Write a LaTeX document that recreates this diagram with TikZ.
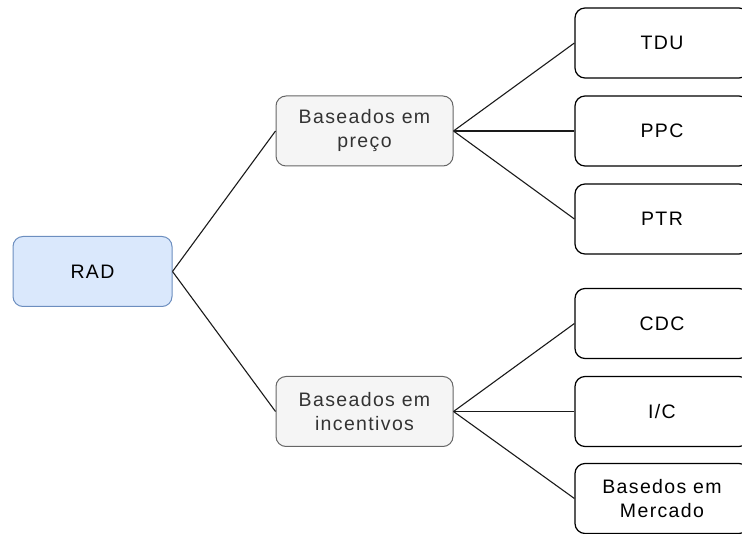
\documentclass[tikz,border=0pt]{standalone}
\usepackage{fontspec}
\setmainfont{Liberation Sans}
\newfontfamily\boxfont[LetterSpace=7]{Liberation Sans}
\begin{document}
\begin{tikzpicture}[x=1pt,y=-1pt,
  every node/.style={font=\boxfont\fontsize{19.5}{24}\selectfont, align=center, inner sep=0pt},
  box/.style={rectangle, rounded corners=10pt, minimum width=174pt, minimum height=70pt, line width=1pt},
  rootbox/.style={box, minimum width=159pt, draw=rootline, fill=rootfill, text=black},
  midbox/.style={box, minimum width=177pt, draw=midline, fill=midfill, text=midtext},
  leafbox/.style={box, draw=leafline, fill=white, text=black, line width=1.2pt},
  link/.style={draw=linkcol, line width=1.1pt}
]
\definecolor{rootfill}{HTML}{DAE8FC}
\definecolor{rootline}{HTML}{6C8EBF}
\definecolor{midfill}{HTML}{F5F5F5}
\definecolor{midline}{HTML}{666666}
\definecolor{midtext}{HTML}{333333}
\definecolor{leafline}{HTML}{000000}
\definecolor{linkcol}{HTML}{1A1A1A}
\useasboundingbox (0,0) rectangle (742,534);
\begin{scope}
\clip (0,0) rectangle (742,534);

% root
\node[rootbox] (rad) at (92.5,271.5) {RAD};

% second level
\node[midbox] (preco) at (364.5,131) {Baseados em\\preço};
\node[midbox] (incent) at (364.5,411.5) {Baseados em\\incentivos};

% leaves
\node[leafbox] (tdu) at (662,43) {TDU};
\node[leafbox] (ppc) at (662,131) {PPC};
\node[leafbox] (ptr) at (662,219) {PTR};
\node[leafbox] (cdc) at (662,323.5) {CDC};
\node[leafbox] (ic) at (662,411.5) {I/C};
\node[leafbox] (merc) at (662,498.5) {Basedos em\\Mercado};

% connectors
\path[link] (rad.east) -- (preco.west);
\path[link] (rad.east) -- (incent.west);
\foreach \c in {tdu,ppc,ptr} \path[link] (preco.east) -- (\c.west);
\foreach \c in {cdc,ic,merc} \path[link] (incent.east) -- (\c.west);
\end{scope}
\end{tikzpicture}
\end{document}
